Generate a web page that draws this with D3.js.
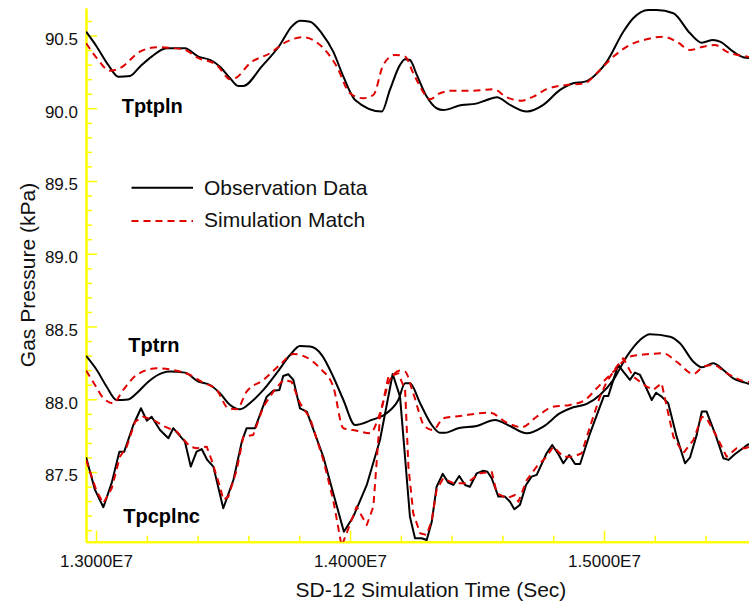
<!DOCTYPE html>
<html>
<head>
<meta charset="utf-8">
<script src="https://cdn.jsdelivr.net/npm/d3@7"></script>
<style>
  html, body { margin: 0; padding: 0; background: #fff; }
  svg { display: block; font-family: "Liberation Sans", Arial, sans-serif; }
</style>
</head>
<body>
<svg id="chart" width="749" height="602"></svg>
<script>
// Time in units of 1e6 seconds, pressure in kPa.

// Tptpln – observed
const tptplnObsTime = [12.961,13.003,13.048,13.088,13.134,13.173,13.219,13.278,13.350,13.403,13.449,13.488,13.528,13.560,13.580,13.652,13.724,13.770,13.803,13.843,13.889,13.934,13.974,14.020,14.125,14.157,14.197,14.217,14.236,14.263,14.302,14.341,14.367,14.440,14.492,14.538,14.578,14.630,14.696,14.761,14.827,14.879,14.925,14.958,15.011,15.076,15.115,15.174,15.207,15.273,15.339,15.385,15.430,15.457,15.509,15.548,15.571];
const tptplnObsValue = [90.526,90.423,90.298,90.217,90.222,90.286,90.355,90.412,90.412,90.355,90.332,90.286,90.206,90.153,90.153,90.286,90.435,90.561,90.602,90.595,90.515,90.389,90.217,90.057,89.977,90.126,90.298,90.337,90.332,90.229,90.080,90.000,89.988,90.023,90.030,90.057,90.076,90.023,89.977,90.023,90.126,90.172,90.183,90.217,90.320,90.526,90.619,90.676,90.676,90.653,90.515,90.451,90.469,90.458,90.389,90.351,90.346];

// Tptpln – simulated
const tptplnSimTime = [12.961,13.003,13.055,13.094,13.173,13.239,13.344,13.403,13.475,13.528,13.554,13.606,13.685,13.751,13.816,13.882,13.948,14.000,14.052,14.092,14.131,14.177,14.217,14.249,14.302,14.315,14.354,14.407,14.485,14.564,14.617,14.676,14.722,14.774,14.853,14.925,14.971,15.037,15.102,15.168,15.233,15.286,15.339,15.391,15.437,15.483,15.548,15.571];
const tptplnSimValue = [90.447,90.344,90.258,90.275,90.389,90.419,90.405,90.344,90.298,90.199,90.213,90.309,90.378,90.458,90.488,90.435,90.286,90.103,90.069,90.091,90.298,90.366,90.355,90.241,90.080,90.062,90.103,90.121,90.121,90.131,90.076,90.052,90.080,90.131,90.160,90.172,90.241,90.355,90.435,90.474,90.492,90.458,90.401,90.423,90.435,90.389,90.359,90.353];

// Tptrn – observed
const tptrnObsTime = [12.961,13.003,13.042,13.081,13.127,13.160,13.206,13.265,13.291,13.350,13.403,13.449,13.488,13.528,13.567,13.613,13.659,13.711,13.764,13.803,13.843,13.889,13.934,13.974,14.020,14.086,14.144,14.190,14.217,14.236,14.276,14.322,14.354,14.374,14.426,14.499,14.571,14.630,14.696,14.761,14.827,14.879,14.932,14.984,15.037,15.089,15.142,15.181,15.260,15.299,15.352,15.385,15.430,15.470,15.509,15.555,15.571];
const tptrnObsValue = [88.298,88.201,88.086,87.995,87.999,88.041,88.121,88.183,88.190,88.183,88.121,88.098,88.041,87.961,87.931,87.984,88.064,88.179,88.304,88.366,88.362,88.304,88.155,87.995,87.823,87.858,87.904,87.995,88.110,88.110,87.973,87.823,87.770,87.770,87.801,87.816,87.858,87.816,87.766,87.812,87.904,87.945,87.968,88.030,88.133,88.293,88.408,88.447,88.430,88.385,88.258,88.220,88.247,88.201,88.144,88.114,88.105];

// Tptrn – simulated
const tptrnSimTime = [12.961,12.996,13.029,13.068,13.107,13.160,13.239,13.304,13.370,13.422,13.475,13.521,13.554,13.593,13.659,13.724,13.777,13.816,13.882,13.934,13.974,14.026,14.079,14.118,14.157,14.197,14.217,14.249,14.295,14.328,14.367,14.433,14.551,14.617,14.676,14.735,14.800,14.866,14.925,14.978,15.037,15.102,15.168,15.233,15.286,15.352,15.391,15.430,15.483,15.548,15.571];
const tptrnSimValue = [88.197,88.098,88.007,87.973,88.064,88.167,88.213,88.201,88.167,88.114,88.064,87.938,87.931,88.052,88.133,88.236,88.311,88.298,88.213,88.087,87.801,87.784,87.766,87.904,88.133,88.197,88.190,88.041,87.812,87.789,87.869,87.885,87.908,87.839,87.808,87.880,87.949,87.961,87.995,88.087,88.190,88.293,88.309,88.316,88.258,88.174,88.224,88.236,88.179,88.126,88.119];

// Tpcplnc – observed
const tpcplncObsTime = [12.961,12.996,13.029,13.062,13.092,13.111,13.147,13.177,13.200,13.219,13.252,13.285,13.304,13.350,13.373,13.396,13.416,13.438,13.462,13.501,13.541,13.574,13.593,13.626,13.672,13.698,13.722,13.737,13.757,13.777,13.803,13.830,13.895,13.934,13.976,14.013,14.066,14.118,14.168,14.197,14.236,14.256,14.282,14.302,14.322,14.341,14.365,14.387,14.407,14.430,14.453,14.472,14.499,14.525,14.541,14.558,14.584,14.610,14.630,14.647,14.669,14.693,14.715,14.735,14.774,14.796,14.820,14.840,14.863,14.886,14.906,14.945,14.984,15.000,15.017,15.037,15.056,15.076,15.102,15.122,15.142,15.161,15.188,15.205,15.227,15.253,15.286,15.319,15.339,15.365,15.385,15.404,15.437,15.470,15.490,15.516,15.555,15.571];
const tpcplncObsValue = [87.601,87.377,87.258,87.427,87.640,87.640,87.823,87.938,87.853,87.880,87.789,87.732,87.801,87.709,87.537,87.640,87.658,87.583,87.537,87.251,87.445,87.709,87.801,87.801,88.018,88.059,88.064,88.160,88.172,88.133,87.938,87.915,87.605,87.354,87.090,87.193,87.411,87.720,88.174,88.018,87.193,87.045,87.045,87.033,87.159,87.399,87.487,87.427,87.411,87.473,87.411,87.399,87.491,87.509,87.502,87.457,87.331,87.331,87.296,87.244,87.274,87.411,87.468,87.480,87.629,87.686,87.624,87.560,87.617,87.555,87.555,87.766,87.949,88.023,88.023,88.133,88.236,88.190,88.133,88.183,88.167,88.098,87.995,88.045,88.018,87.973,87.743,87.560,87.601,87.755,87.915,87.915,87.766,87.595,87.583,87.624,87.674,87.693];

// Tpcplnc – simulated
const tpcplncSimTime = [12.961,13.003,13.029,13.062,13.094,13.121,13.154,13.186,13.226,13.265,13.318,13.370,13.396,13.436,13.455,13.488,13.501,13.521,13.554,13.580,13.619,13.659,13.698,13.737,13.770,13.803,13.843,13.895,13.934,13.967,13.987,14.026,14.066,14.092,14.118,14.151,14.190,14.217,14.230,14.249,14.276,14.302,14.322,14.341,14.367,14.407,14.459,14.512,14.558,14.578,14.617,14.650,14.663,14.696,14.735,14.774,14.800,14.840,14.879,14.912,14.945,14.984,15.011,15.050,15.076,15.115,15.168,15.194,15.227,15.247,15.273,15.312,15.352,15.385,15.404,15.444,15.483,15.522,15.555,15.571];
const tpcplncSimValue = [87.583,87.365,87.285,87.388,87.605,87.674,87.846,87.880,87.858,87.816,87.777,87.674,87.663,87.674,87.583,87.399,87.308,87.331,87.514,87.743,87.755,87.949,88.052,88.133,88.121,87.973,87.869,87.583,87.308,86.990,87.081,87.262,87.136,87.262,87.880,88.155,88.179,88.064,87.537,87.216,87.079,87.067,87.170,87.377,87.457,87.423,87.423,87.491,87.502,87.354,87.320,87.342,87.296,87.445,87.537,87.605,87.674,87.605,87.605,87.629,87.812,88.018,88.121,88.224,88.282,88.155,88.087,88.064,88.110,87.949,87.743,87.629,87.720,87.880,87.869,87.743,87.605,87.663,87.663,87.672];

// Axis ticks and labels
const xMajorTicks = [13.0, 14.0, 15.0];
const xMinorTicks = [13.2, 13.4, 13.6, 13.8, 14.2, 14.4, 14.6, 14.8, 15.2, 15.4];
const yMajorTicks = [87.5, 88.0, 88.5, 89.0, 89.5, 90.0, 90.5];
const yMinorTicks = [87.1, 87.2, 87.3, 87.4, 87.6, 87.7, 87.8, 87.9, 88.1, 88.2, 88.3, 88.4, 88.6, 88.7, 88.8, 88.9,
                     89.1, 89.2, 89.3, 89.4, 89.6, 89.7, 89.8, 89.9, 90.1, 90.2, 90.3, 90.4, 90.6];
const xTitle = "SD-12 Simulation Time (Sec)";
const yTitle = "Gas Pressure (kPa)";
const legendLabels = ["Observation Data", "Simulation Match"];
const seriesNames = ["Tptpln", "Tptrn", "Tpcplnc"];

const AXIS_COLOR = "#ffff00";
const OBS_COLOR = "#000000";
const SIM_COLOR = "#e00000";
const DASH = "7,5";

const svg = d3.select("#chart");
const plotLeft = 86, plotRight = 749, plotTop = 8, plotBottom = 541.7;

const x = d3.scaleLinear().domain([12.9606, 15.5709]).range([plotLeft, plotRight]);
const y = d3.scaleLinear().domain([87.021, 90.689]).range([plotBottom, plotTop]);

const fmtX = d => (d / 10).toFixed(4) + "E7";
const fmtY = d3.format(".1f");

// Axes (ticks point inward)
function styleAxis(g) {
  g.select(".domain").attr("stroke", AXIS_COLOR).attr("stroke-width", 2);
  g.selectAll(".tick line").attr("stroke", AXIS_COLOR).attr("stroke-width", 1.5);
  g.selectAll(".tick text").attr("fill", "#111").style("font-size", "17px")
    .style("font-family", "'Liberation Sans', Arial, sans-serif");
}

svg.append("g").attr("transform", `translate(0,${plotBottom})`)
  .call(d3.axisBottom(x).tickValues(xMinorTicks).tickSizeInner(-6).tickSizeOuter(0).tickFormat(""))
  .call(styleAxis);
svg.append("g").attr("transform", `translate(0,${plotBottom})`)
  .call(d3.axisBottom(x).tickValues(xMajorTicks).tickSizeInner(-11).tickSizeOuter(0).tickPadding(13).tickFormat(fmtX))
  .call(styleAxis);

svg.append("g").attr("transform", `translate(${plotLeft},0)`)
  .call(d3.axisLeft(y).tickValues(yMinorTicks).tickSizeInner(-6).tickSizeOuter(0).tickFormat(""))
  .call(styleAxis);
const yAx = svg.append("g").attr("transform", `translate(${plotLeft},0)`)
  .call(d3.axisLeft(y).tickValues(yMajorTicks).tickSizeInner(-11).tickSizeOuter(0).tickPadding(8).tickFormat(fmtY))
  .call(styleAxis);
yAx.selectAll(".tick text").attr("dy", "0.52em");

// Axis titles
svg.append("text").attr("x", 431).attr("y", 597).attr("text-anchor", "middle")
  .style("font-size", "21px").attr("fill", "#111").text(xTitle);
svg.append("text").attr("transform", "translate(35,275) rotate(-90)").attr("text-anchor", "middle")
  .style("font-size", "21px").attr("fill", "#111").text(yTitle);

// Data lines
svg.append("clipPath").attr("id", "plot-clip")
  .append("rect").attr("x", plotLeft).attr("y", 0).attr("width", plotRight - plotLeft).attr("height", plotBottom);

const plot = svg.append("g").attr("clip-path", "url(#plot-clip)");

const smoothLine = d3.line().x(d => x(d[0])).y(d => y(d[1])).curve(d3.curveMonotoneX);
const jaggedLine = d3.line().x(d => x(d[0])).y(d => y(d[1]));

const zip = (t, v) => t.map((ti, i) => [ti, v[i]]);

const lines = [
  { data: zip(tptplnObsTime, tptplnObsValue), gen: smoothLine, obs: true },
  { data: zip(tptrnObsTime, tptrnObsValue), gen: smoothLine, obs: true },
  { data: zip(tpcplncObsTime, tpcplncObsValue), gen: jaggedLine, obs: true },
  { data: zip(tptplnSimTime, tptplnSimValue), gen: smoothLine, obs: false },
  { data: zip(tptrnSimTime, tptrnSimValue), gen: smoothLine, obs: false },
  { data: zip(tpcplncSimTime, tpcplncSimValue), gen: jaggedLine, obs: false }
];

lines.forEach(s => {
  plot.append("path")
    .attr("d", s.gen(s.data))
    .attr("fill", "none")
    .attr("stroke", s.obs ? OBS_COLOR : SIM_COLOR)
    .attr("stroke-width", 2)
    .attr("stroke-linejoin", "round")
    .attr("stroke-dasharray", s.obs ? null : DASH);
});

// Legend
const legend = svg.append("g");
[0, 1].forEach(i => {
  const ly = i === 0 ? 187.7 : 221;
  legend.append("line").attr("x1", 131.5).attr("x2", 193).attr("y1", ly).attr("y2", ly)
    .attr("stroke", i === 0 ? OBS_COLOR : SIM_COLOR).attr("stroke-width", 2)
    .attr("stroke-dasharray", i === 0 ? null : DASH);
  legend.append("text").attr("x", 204).attr("y", i === 0 ? 195 : 226.5)
    .style("font-size", "21px").attr("fill", "#111").text(legendLabels[i]);
});

// Series labels
const labelPos = [[121.7, 113.3], [128.3, 351.7], [123.3, 522.7]];
seriesNames.forEach((name, i) => {
  svg.append("text").attr("x", labelPos[i][0]).attr("y", labelPos[i][1])
    .style("font-size", "20px").style("font-weight", "bold").attr("fill", "#000").text(name);
});
</script>
</body>
</html>
